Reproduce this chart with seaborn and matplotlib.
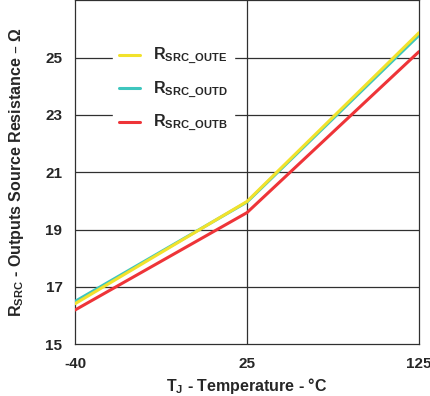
import matplotlib
matplotlib.use("Agg")
import matplotlib.pyplot as plt
import pandas as pd
import seaborn as sns

# values
temperatures = ["-40", "25", "125"]
series_names = ["R$_\\mathregular{SRC\\_OUTE}$", "R$_\\mathregular{SRC\\_OUTD}$", "R$_\\mathregular{SRC\\_OUTB}$"]
r_src_oute = [16.41, 19.98, 25.87]
r_src_outd = [16.49, 19.96, 25.78]
r_src_outb = [16.19, 19.59, 25.21]
y_ticks = [15, 17, 19, 21, 23, 25]

colors = ["#F2E22C", "#3EC6BE", "#EE3438"]

rows = []
for name, values in zip(series_names, [r_src_oute, r_src_outd, r_src_outb]):
    for t, v in zip(temperatures, values):
        rows.append({"temp": t, "r": v, "series": name})
data = pd.DataFrame(rows)

sns.set_style("white")
plt.rcParams["font.family"] = ["Liberation Sans", "DejaVu Sans"]
plt.rcParams["font.weight"] = "bold"

fig = plt.figure(figsize=(4.31, 3.96), dpi=100)
ax = fig.add_axes([0.174, 0.131, 0.798, 0.868])

sns.lineplot(data=data, x="temp", y="r", hue="series", hue_order=series_names,
             palette=colors, linewidth=2.2, ax=ax, sort=False)

# yellow sits on top of teal in the reference
ax.lines[0].set_zorder(4)
ax.lines[1].set_zorder(3)
ax.lines[2].set_zorder(3)

ax.set_xlim(0, 2)
ax.set_ylim(15, 27)
ax.set_yticks(y_ticks)
ax.set_yticklabels([str(v) for v in y_ticks], fontsize=11, fontweight="bold")
ax.set_xticks([0, 1, 2])
ax.set_xticklabels(temperatures, fontsize=11, fontweight="bold")
ax.tick_params(axis="both", length=0)
ax.tick_params(axis="y", pad=9)
ax.tick_params(axis="x", pad=9)

grid_color = "#303030"
for v in y_ticks[1:]:
    ax.axhline(v, color=grid_color, lw=0.9, zorder=1)
ax.axvline(1, color=grid_color, lw=0.9, zorder=1)
for spine in ax.spines.values():
    spine.set_color(grid_color)
    spine.set_linewidth(0.9)

ax.set_xlabel("T$_\\mathregular{J}$ - Temperature - °C", fontsize=11.5, fontweight="bold", labelpad=4)
ax.set_ylabel("R$_\\mathregular{SRC}$ - Outputs Source Resistance – Ω", fontsize=11.5,
              fontweight="bold", labelpad=14)

handles, labels = ax.get_legend_handles_labels()
leg = ax.legend(handles, labels, loc="upper left", bbox_to_anchor=(0.087, 0.91),
                frameon=True, fancybox=False, framealpha=1, edgecolor="white",
                fontsize=11.5, handlelength=1.3, handletextpad=0.8, labelspacing=0.75,
                borderpad=0.4)
leg.set_zorder(5)
for t in leg.get_texts():
    t.set_fontweight("bold")

fig.savefig("out.png", dpi=100)
